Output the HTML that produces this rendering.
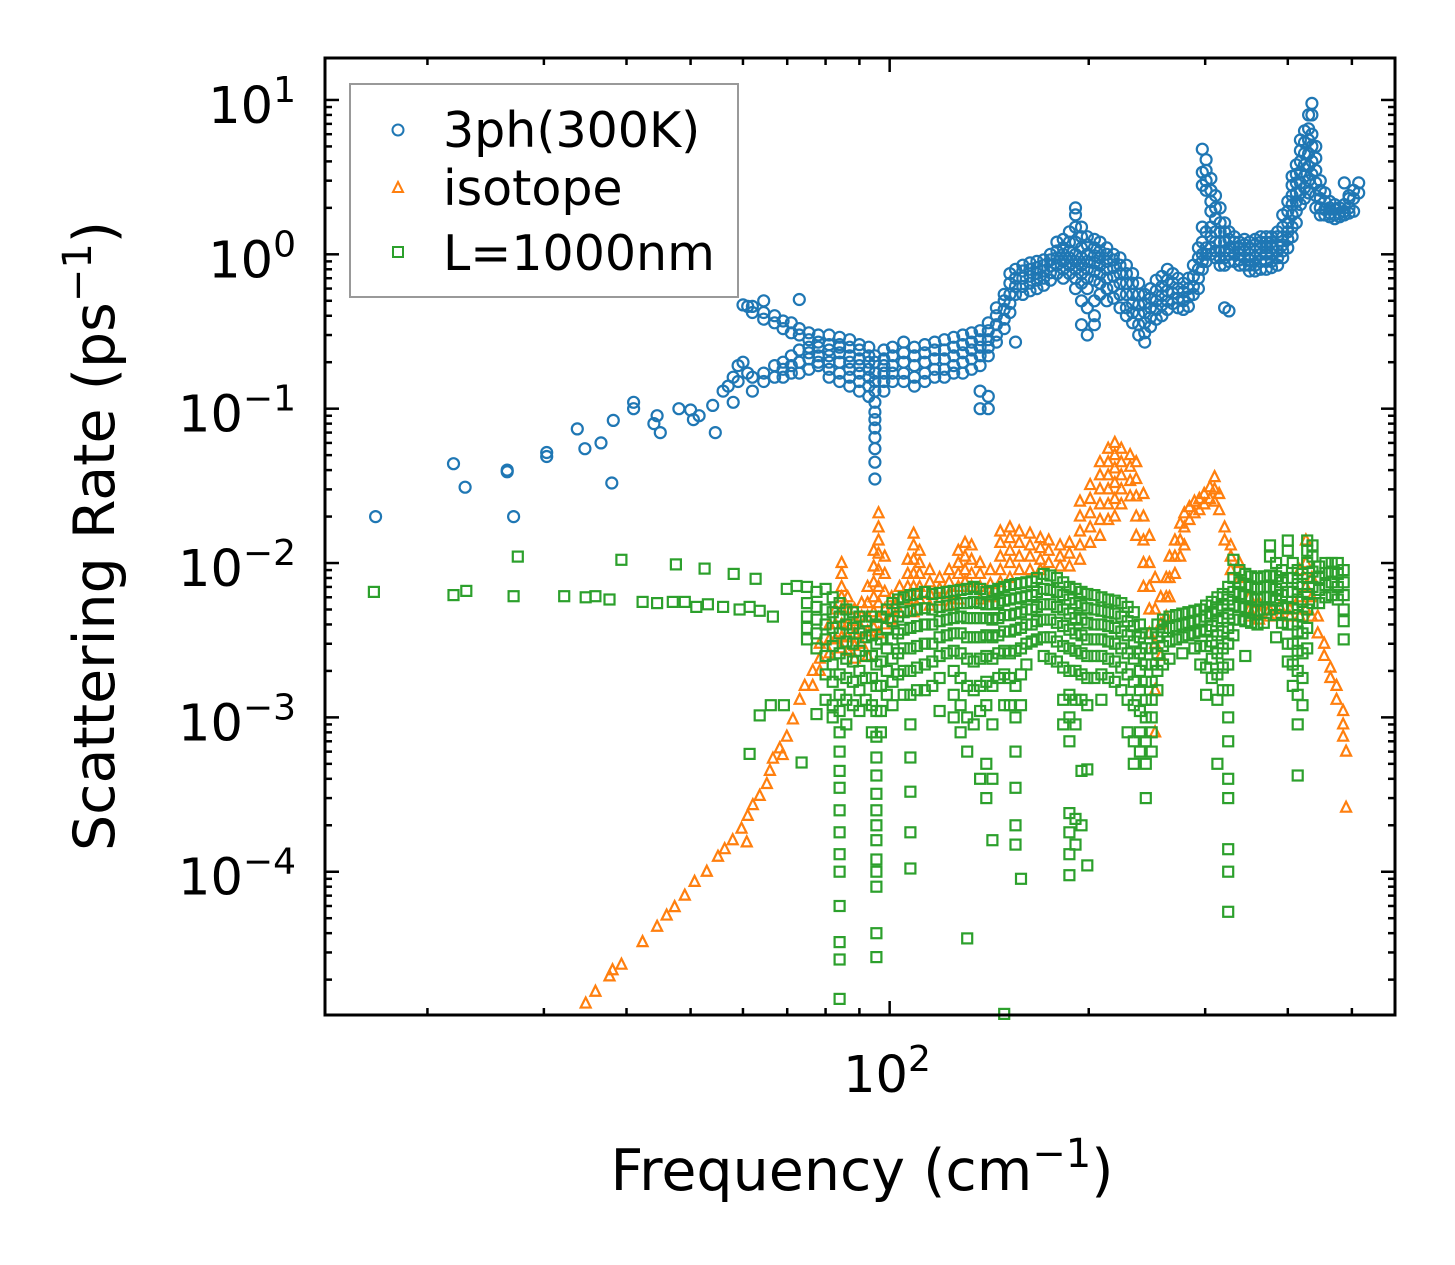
<!DOCTYPE html>
<html><head><meta charset="utf-8"><style>
html,body{margin:0;padding:0;background:#fff;}
svg{display:block;font-family:"DejaVu Sans","Liberation Sans",sans-serif;}
</style></head><body>
<svg id="chart" width="1455" height="1265" viewBox="0 0 1455 1265" xmlns="http://www.w3.org/2000/svg">
<rect width="1455" height="1265" fill="#fff"/>
<g id="ticks"></g>
<g id="ylabels"></g>
<g id="marks"></g>
<rect x="325" y="58" width="1070" height="957" fill="none" stroke="#000" stroke-width="3"/>
<text x="887" y="1092" font-size="51" text-anchor="middle">10<tspan font-size="36" dy="-21">2</tspan></text>
<text x="862" y="1190" font-size="57" text-anchor="middle">Frequency (cm<tspan font-size="40" dy="-23">−1</tspan><tspan dy="23">)</tspan></text>
<text transform="translate(114,536) rotate(-90)" font-size="57" text-anchor="middle">Scattering Rate (ps<tspan font-size="40" dy="-23">−1</tspan><tspan dy="23">)</tspan></text>
<g>
<rect x="350" y="84" width="388" height="213" fill="#fff" fill-opacity="0.8" stroke="#999" stroke-width="2"/>
<circle cx="398" cy="130" r="5.5" fill="none" stroke="#1f77b4" stroke-width="2"/>
<text x="443" y="147" font-size="49">3ph(300K)</text>
<polygon points="398,182 403,192 393,192" fill="none" stroke="#ff7f0e" stroke-width="2"/>
<text x="443" y="205" font-size="49">isotope</text>
<rect x="393" y="247" width="10" height="10" fill="none" stroke="#2ca02c" stroke-width="2"/>
<text x="443" y="270" font-size="49">L=1000nm</text>
</g>
</svg>
<script>
// axes
var xMin=14.0, xMax=581, yMin=1.18e-5, yMax=18.7;
var L=325,R=1395,T=58,B=1015;
function xs(f){return L+(Math.log10(f)-Math.log10(xMin))/(Math.log10(xMax)-Math.log10(xMin))*(R-L);}
function ys(v){return B-(Math.log10(v)-Math.log10(yMin))/(Math.log10(yMax)-Math.log10(yMin))*(B-T);}
var yTickExps=[1,0,-1,-2,-3,-4];
var xMajorTicks=[100];
var xMinorTicks=[20,30,40,50,60,70,80,90,200,300,400,500];

// 3ph (300K) scattering rates: frequency columns with rates at that frequency
var phFreq=[16.7,21.9,22.8,26.4,27,30.3,33.7,34.6,36.6,38,38.2,41,44,44.5,45,48,50,50.5,51.5,54,54.5,56,57,58,59,60,61,62,64.5,67,69,71,73,75.5,78,81,84,87,90,93,95,98,101,105,109,113,117,121,125,129,133,137,141,145,149,152,155,159,163,167,171,175,179,183,187,191,195,199,204,208,213,218,223,228,233,238,243,248,253,258,263,268,273,278,283,288,293,297,301,306,311,316,321,326,332,338,344,350,357,364,371,378,386,393,400,406,412,418,424,430,435,441,448,455,463,471,479,487,495,503,512];
var phRates=[[0.02],[0.044],[0.031],[0.04,0.039],[0.02],[0.049,0.052],[0.074],[0.055],[0.06],[0.033],[0.084],[0.11,0.1],[0.08],[0.09],[0.07],[0.1],[0.098],[0.085],[0.09],[0.105],[0.07],[0.13],[0.14],[0.16,0.11],[0.15,0.19],[0.47,0.2],[0.46,0.17],[0.46,0.42,0.13,0.16],[0.42,0.38,0.15,0.17,0.5],[0.4,0.36,0.16,0.19],[0.37,0.33,0.18,0.2,0.16],[0.36,0.31,0.19,0.17,0.22],[0.33,0.3,0.2,0.17,0.24,0.51],[0.31,0.28,0.21,0.18,0.25,0.23],[0.3,0.27,0.22,0.19,0.25,0.2],[0.3,0.26,0.22,0.18,0.24,0.2,0.16],[0.29,0.26,0.23,0.2,0.17,0.15,0.25],[0.28,0.25,0.22,0.2,0.18,0.16,0.14],[0.26,0.24,0.21,0.19,0.17,0.15,0.13],[0.25,0.22,0.2,0.18,0.16,0.14,0.12],[0.22,0.2,0.17,0.15,0.13,0.11,0.095,0.085,0.075,0.065,0.055,0.045,0.035],[0.24,0.21,0.19,0.17,0.15,0.13],[0.25,0.22,0.19,0.17,0.15],[0.27,0.23,0.2,0.17,0.15],[0.25,0.22,0.19,0.16,0.14],[0.26,0.23,0.2,0.17,0.15],[0.27,0.24,0.21,0.18,0.16],[0.28,0.24,0.21,0.18,0.16],[0.29,0.25,0.22,0.19,0.17],[0.3,0.26,0.23,0.2,0.17],[0.31,0.27,0.24,0.21,0.18],[0.32,0.28,0.25,0.22,0.19,0.13,0.1],[0.36,0.32,0.28,0.25,0.22,0.12,0.1],[0.45,0.4,0.35,0.3,0.27],[0.55,0.5,0.44,0.38,0.33],[0.75,0.65,0.55,0.48,0.42],[0.8,0.7,0.62,0.55,0.27],[0.85,0.78,0.7,0.62,0.55],[0.88,0.8,0.72,0.65,0.58],[0.9,0.82,0.75,0.68,0.6],[0.92,0.85,0.78,0.7,0.63],[1.0,0.92,0.84,0.76,0.68],[1.2,1.05,0.95,0.85,0.75],[1.25,1.1,1.0,0.9,0.8,0.7],[1.4,1.2,1.05,0.95,0.85,0.75],[2.0,1.8,1.5,1.2,1.0,0.9,0.8,0.7,0.6],[1.5,1.3,1.1,0.95,0.85,0.75,0.65,0.5,0.35],[1.3,1.15,1.0,0.9,0.8,0.7,0.6,0.45,0.3],[1.25,1.1,0.98,0.88,0.78,0.68,0.5,0.4,0.35],[1.2,1.05,0.95,0.85,0.75,0.65,0.55],[1.1,1.0,0.9,0.8,0.7,0.6,0.5],[1.0,0.92,0.82,0.72,0.62,0.52],[0.95,0.85,0.75,0.65,0.55,0.45],[0.85,0.75,0.65,0.55,0.45,0.4],[0.75,0.65,0.55,0.48,0.42,0.36],[0.65,0.55,0.47,0.41,0.35,0.3],[0.55,0.48,0.42,0.36,0.31,0.27],[0.6,0.52,0.45,0.39,0.34],[0.68,0.58,0.5,0.44,0.38],[0.72,0.62,0.54,0.47,0.4],[0.8,0.68,0.58,0.5,0.44],[0.75,0.65,0.56,0.48],[0.7,0.6,0.52,0.45],[0.65,0.57,0.5,0.44],[0.7,0.6,0.53,0.46],[0.85,0.72,0.62,0.55],[1.1,0.95,0.8,0.7,0.6],[4.8,3.4,2.8,1.5,1.2,1.0,0.9,0.8],[4.1,3.5,3.0,2.6,1.4,1.1,1.0,0.9],[3.1,2.6,2.2,1.9,1.5,1.3,1.1,1.0],[2.4,2.0,1.7,1.4,1.2,1.05,0.95],[2.0,1.6,1.4,1.2,1.05,0.95,0.85],[1.6,1.4,1.2,1.05,0.95,0.85,0.45],[1.4,1.25,1.1,1.0,0.9,0.43],[1.3,1.2,1.1,1.0,0.9],[1.2,1.1,1.0,0.92,0.85],[1.25,1.15,1.05,0.95,0.85],[1.2,1.1,1.0,0.92,0.85,0.78],[1.25,1.15,1.05,0.95,0.85,0.78],[1.3,1.2,1.1,1.0,0.9,0.8],[1.3,1.2,1.1,1.0,0.9,0.8],[1.3,1.2,1.1,1.0,0.9,0.82],[1.4,1.3,1.15,1.05,0.95,0.85],[1.8,1.5,1.3,1.15,1.05,0.95],[2.2,1.9,1.6,1.4,1.25,1.1],[3.2,2.8,2.4,2.1,1.8,1.5,1.3],[3.8,3.3,2.9,2.5,2.2,1.9,1.6],[5.5,4.7,4.0,3.4,2.9,2.5,2.1],[6.3,5.3,4.5,3.8,3.2,2.7,2.3],[8.0,6.5,5.5,4.5,3.7,3.0,2.5],[9.5,8.0,6.0,5.0,4.0,3.3],[5.0,4.2,3.5,2.9,2.4,2.0],[3.0,2.6,2.3,2.0,1.8],[2.5,2.2,1.95,1.8],[2.2,2.0,1.85,1.75],[2.1,1.95,1.8,1.7],[2.0,1.85,1.75],[2.9,2.1,1.9,1.8],[2.4,2.3,2.0,1.85],[2.6,2.3,1.9],[2.9,2.5]];

// isotope scattering rates
var isoFreq=[34.7,35.9,37.7,38.1,39.3,42.3,44.5,46,47.3,49,50.7,52.9,55,56.3,57.9,59.7,60.8,61,62.1,63.6,65.2,65.9,66.6,68.2,68.9,69.9,71.4,73.1,74.4,76.5,78.4,81.1,82.8,84.6,86.4,88.5,90.7,92.6,94.6,96.2,98.3,100.7,103.5,106.5,108.7,111,115,119,123,127,130,133,137,142,147,152,157,163,169,174,181,187,194,201,208,214,219,224,231,236,242,247,252,257,262,265,270,275,279,284,289,294,299,305,310,315,321,328,338,350,362,375,389,403,417,426,435,444,454,464,474,485,490];
var isoRates=[[1.4e-5],[1.67e-5],[2.1e-5],[2.3e-5],[2.5e-5],[3.5e-5],[4.4e-5],[5.2e-5],[5.9e-5],[7e-5],[8.6e-5],[1e-4],[1.25e-4],[1.4e-4],[1.6e-4],[1.9e-4],[1.55e-4],[2.3e-4],[2.7e-4],[3.1e-4],[3.7e-4],[4.5e-4],[5.4e-4],[6.3e-4],[5.7e-4],[7.5e-4],[9.7e-4],[1.3e-3],[1.6e-3],[2e-3,1.6e-3],[2.4e-3,3e-3,2e-3],[3.2e-3,2.6e-3,4e-3],[4e-3,3.2e-3,5e-3],[1e-2,8.5e-3,7e-3,6e-3,5e-3,4e-3,3.3e-3,2.8e-3],[6e-3,5e-3,4e-3,3.3e-3,2.7e-3],[5e-3,4.2e-3,3.5e-3,2.9e-3,2.4e-3],[5.5e-3,4.5e-3,3.7e-3,3e-3],[7e-3,5.5e-3,4.5e-3,3.6e-3,2.5e-3],[1.2e-2,9.5e-3,7.5e-3,6e-3,4.8e-3,3.8e-3],[2.1e-2,1.7e-2,1.4e-2,1.15e-2,9e-3,7e-3,5.5e-3,4.4e-3,3.5e-3],[1.1e-2,8.5e-3,6.5e-3,5e-3,4e-3],[6e-3,5e-3,4.3e-3],[7e-3,5.8e-3,4.8e-3],[1.05e-2,8.5e-3,7e-3,5.8e-3],[1.55e-2,1.3e-2,1.05e-2,8.5e-3,7e-3,5.8e-3,4.8e-3],[1.2e-2,1e-2,8.5e-3,7e-3,5.8e-3],[9e-3,7.5e-3,6.3e-3,5.3e-3],[8e-3,6.8e-3,5.7e-3],[9e-3,7.5e-3,6.3e-3,5.3e-3],[1.2e-2,1e-2,8.5e-3,7e-3,5.8e-3],[1.35e-2,1.1e-2,9e-3,7.5e-3],[1.3e-2,1.05e-2,8.5e-3,7e-3],[1e-2,8.5e-3,7e-3,5.8e-3],[9e-3,7.3e-3,6e-3],[1.6e-2,1.35e-2,1.1e-2,9e-3,7.5e-3],[1.7e-2,1.45e-2,1.2e-2,1e-2,8e-3],[1.6e-2,1.35e-2,1.1e-2,9e-3],[1.55e-2,1.3e-2,1.1e-2,9e-3],[1.45e-2,1.25e-2,1.05e-2,9e-3],[1.4e-2,1.2e-2,1e-2],[1.3e-2,1.1e-2,9.5e-3],[1.35e-2,1.15e-2,9.5e-3],[2.5e-2,2e-2,1.6e-2,1.3e-2,1.05e-2],[3.2e-2,2.6e-2,2.1e-2,1.7e-2,1.35e-2],[4.5e-2,3.7e-2,3e-2,2.4e-2,1.9e-2,1.5e-2],[5.5e-2,4.5e-2,3.7e-2,3e-2,2.4e-2,1.9e-2],[6e-2,5e-2,4.1e-2,3.3e-2,2.6e-2,2e-2],[5.5e-2,4.5e-2,3.7e-2,3e-2,2.4e-2],[5e-2,4.2e-2,3.4e-2,2.7e-2],[4.5e-2,3.5e-2,2.7e-2,2e-2,1.5e-2],[2.8e-2,2e-2,1.4e-2,1e-2,7e-3],[1.5e-2,1e-2,7e-3,5e-3,3.5e-3],[8e-3,5e-3,3e-3,1.5e-3,8e-4],[6e-3,4e-3,2.5e-3],[8e-3,6e-3,4.5e-3],[1.1e-2,8e-3,6e-3],[1.4e-2,1.1e-2,8.5e-3],[1.8e-2,1.4e-2,1.1e-2],[2.1e-2,1.7e-2,1.3e-2],[2.3e-2,1.9e-2],[2.5e-2,2.1e-2],[2.6e-2,2.2e-2],[2.8e-2,2.4e-2],[3.1e-2,2.6e-2],[3.6e-2,3e-2,2.5e-2],[2.8e-2,2.2e-2],[1.7e-2,1.4e-2],[1.3e-2,1.1e-2,9e-3],[1e-2,8e-3],[6e-3,5e-3,4.5e-3],[5.5e-3,4.8e-3,4.3e-3],[5e-3,4.5e-3],[5.2e-3,4.6e-3],[5e-3,4.5e-3],[9e-3,6e-3,4.5e-3],[1.4e-2,1e-2,7e-3,5e-3],[8e-3,6e-3,4.5e-3],[4.5e-3,3.5e-3],[3e-3,2.5e-3],[2.1e-3,1.8e-3],[1.6e-3,1.3e-3],[1.1e-3,9e-4,7.5e-4],[6e-4,2.6e-4]];

// boundary (L=1000nm) scattering rates
var bdFreq=[16.6,21.9,22.9,27,27.4,32.2,34.7,35.9,37.7,39.3,42.3,44.5,47,47.5,49,51,52.5,53.1,56,58.1,59.3,61.4,62.7,63.6,66.1,66.6,69.2,69.9,72.3,73.6,75,77.5,80,82,84,86,88,90,92,94,95.5,97,99,101,103,105,107.5,110,113,116,119,122,125,128,131,134,137,140,143,146,149,152,155,158,161,164,167,171,175,179,183,187,191,195,199,204,209,214,219,224,229,234,239,244,249,254,259,265,271,277,283,289,295,301,307,313,319,325,331,338,345,352,360,368,376,384,392,400,407,414,421,428,436,446,456,466,476,486];
var bdRates=[[6.5e-3],[6.2e-3],[6.6e-3],[6.1e-3],[1.1e-2],[6.1e-3],[6e-3],[6.1e-3],[5.8e-3],[1.05e-2],[5.6e-3],[5.5e-3],[5.6e-3],[9.8e-3],[5.6e-3],[5.2e-3],[9.2e-3],[5.4e-3],[5.2e-3],[8.5e-3],[5e-3],[5.2e-3,5.8e-4],[7.9e-3],[4.9e-3,1.03e-3],[1.2e-3],[4.5e-3],[1.2e-3],[6.8e-3],[7.1e-3],[5.1e-4],[7e-3,5.5e-3,4.5e-3,3.8e-3,3.2e-3],[6.5e-3,5.2e-3,4.3e-3,3.5e-3,2.8e-3,1.05e-3],[6.8e-3,5e-3,4e-3,3.2e-3,2.5e-3,1.9e-3,1.3e-3],[6e-3,4.8e-3,3.8e-3,2.9e-3,2.2e-3,1.7e-3,1.2e-3,1e-3],[5.5e-3,4.5e-3,3.5e-3,2.6e-3,1.9e-3,1.4e-3,1.1e-3,8e-4,6e-4,4.5e-4,3.5e-4,2.5e-4,1.8e-4,1.3e-4,1e-4,6e-5,3.5e-5,2.7e-5,1.5e-5],[5e-3,4e-3,3.1e-3,2.4e-3,1.8e-3,1.3e-3,9e-4],[4.8e-3,3.8e-3,3e-3,2.3e-3,1.7e-3,1.2e-3],[4.5e-3,3.5e-3,2.7e-3,2e-3,1.5e-3,1.1e-3],[4.2e-3,3.3e-3,2.5e-3,1.8e-3,1.3e-3],[4.5e-3,3.4e-3,2.5e-3,1.8e-3,1.2e-3,8e-4],[4e-3,3e-3,2.2e-3,1.6e-3,1.1e-3,7.5e-4,5.5e-4,4.2e-4,3.2e-4,2.5e-4,2e-4,1.6e-4,1.2e-4,1e-4,8e-5,4e-5,2.8e-5],[4.5e-3,3.2e-3,2.3e-3,1.6e-3,1.1e-3,8e-4],[5e-3,3.8e-3,2.8e-3,2e-3,1.4e-3],[5.5e-3,4.2e-3,3.2e-3,2.4e-3,1.7e-3,1.2e-3],[5.8e-3,4.5e-3,3.5e-3,2.6e-3,1.9e-3],[6e-3,4.8e-3,3.7e-3,2.8e-3,2e-3,1.4e-3],[6.2e-3,4.9e-3,3.8e-3,2.8e-3,2e-3,1.4e-3,9e-4,5.5e-4,3.3e-4,1.8e-4,1.05e-4],[6.3e-3,5e-3,3.9e-3,2.9e-3,2.1e-3,1.5e-3],[6.5e-3,5.1e-3,4e-3,3e-3,2.2e-3,1.5e-3],[6.3e-3,5e-3,4e-3,3e-3,2.3e-3,1.6e-3],[6.4e-3,5.2e-3,4.2e-3,3.3e-3,2.5e-3,1.8e-3,1.1e-3],[6.5e-3,5.3e-3,4.3e-3,3.4e-3,2.6e-3],[6.6e-3,5.4e-3,4.4e-3,3.5e-3,2.7e-3,2e-3,1.4e-3,1e-3],[6.7e-3,5.5e-3,4.5e-3,3.5e-3,2.6e-3,1.8e-3,1.2e-3,8e-4],[6.8e-3,5.5e-3,4.4e-3,3.3e-3,2.4e-3,1.6e-3,1e-3,6e-4,3.7e-5],[7e-3,5.6e-3,4.4e-3,3.3e-3,2.3e-3,1.5e-3,9e-4],[6.8e-3,5.5e-3,4.4e-3,3.3e-3,2.4e-3,1.6e-3,1.1e-3,4e-4],[6.5e-3,5.4e-3,4.4e-3,3.4e-3,2.5e-3,1.7e-3,1.2e-3,5e-4,3e-4],[6.6e-3,5.4e-3,4.3e-3,3.3e-3,2.4e-3,1.6e-3,9e-4,4e-4,1.6e-4],[6.8e-3,5.5e-3,4.4e-3,3.4e-3,2.6e-3,1.8e-3],[7e-3,5.7e-3,4.6e-3,3.6e-3,2.7e-3,1.9e-3,1.2e-3,1.2e-5],[7.2e-3,5.8e-3,4.6e-3,3.6e-3,2.6e-3,1.8e-3,1.2e-3],[7.3e-3,5.9e-3,4.7e-3,3.7e-3,2.7e-3,1.6e-3,1e-3,6e-4,3.5e-4,2e-4,1.5e-4],[7.4e-3,6e-3,4.8e-3,3.8e-3,2.8e-3,1.9e-3,1.2e-3,9e-5],[7.5e-3,6.1e-3,5e-3,4e-3,3e-3,2.2e-3],[7.6e-3,6.2e-3,5e-3,4e-3,3.1e-3],[8e-3,6.5e-3,5.2e-3,4.2e-3,3.2e-3],[8.5e-3,6.8e-3,5.4e-3,4.3e-3,3.3e-3,2.5e-3],[8.3e-3,6.7e-3,5.4e-3,4.3e-3,3.3e-3,2.4e-3],[8e-3,6.5e-3,5.2e-3,4.1e-3,3.1e-3,2.3e-3],[7.5e-3,6.2e-3,5e-3,3.9e-3,2.9e-3,2.1e-3,1.3e-3,9e-4],[7e-3,5.8e-3,4.7e-3,3.7e-3,2.8e-3,2e-3,1.4e-3,1e-3,7e-4,2.4e-4,1.8e-4,1.3e-4,9.5e-5],[6.8e-3,5.5e-3,4.4e-3,3.5e-3,2.7e-3,2e-3,1.3e-3,9e-4,2.2e-4,1.5e-4],[6.5e-3,5.3e-3,4.3e-3,3.4e-3,2.6e-3,1.9e-3,1.3e-3,4.5e-4,2e-4],[6.3e-3,5.1e-3,4.1e-3,3.2e-3,2.5e-3,1.8e-3,1.2e-3,4.6e-4,1.1e-4],[6.2e-3,5e-3,4e-3,3.2e-3,2.5e-3,1.8e-3],[6e-3,4.9e-3,4e-3,3.2e-3,2.5e-3,1.9e-3,1.3e-3],[5.8e-3,4.8e-3,3.9e-3,3.1e-3,2.4e-3,1.8e-3],[5.7e-3,4.7e-3,3.8e-3,3e-3,2.3e-3,1.7e-3],[5.5e-3,4.5e-3,3.6e-3,2.8e-3,2.1e-3,1.5e-3],[5.2e-3,4.2e-3,3.4e-3,2.6e-3,1.9e-3,1.3e-3,8e-4],[4.8e-3,3.9e-3,3.1e-3,2.4e-3,1.7e-3,1.2e-3,7e-4,5e-4],[4e-3,3.3e-3,2.6e-3,2e-3,1.5e-3,1.1e-3,8e-4,6e-4],[3.5e-3,2.8e-3,2.2e-3,1.7e-3,1.3e-3,1e-3,7e-4,5e-4,3e-4],[3.5e-3,2.8e-3,2.2e-3,1.7e-3,1.3e-3,1e-3,8e-4,6e-4],[4e-3,3.3e-3,2.6e-3,2e-3,1.5e-3],[4.3e-3,3.6e-3,2.9e-3,2.2e-3],[4.5e-3,3.8e-3,3.1e-3,2.4e-3],[4.6e-3,3.9e-3,3.2e-3],[4.7e-3,4e-3,3.3e-3,2.6e-3],[4.8e-3,4.1e-3,3.4e-3],[4.9e-3,4.2e-3,3.5e-3,2.8e-3],[5e-3,4.3e-3,3.6e-3,2.9e-3,2.2e-3],[5.3e-3,4.5e-3,3.7e-3,2.9e-3,2.1e-3,1.4e-3],[5.6e-3,4.7e-3,3.9e-3,3.1e-3,2.4e-3,1.8e-3],[6e-3,5e-3,4.2e-3,3.4e-3,2.6e-3,1.9e-3,1.3e-3,5e-4],[6.3e-3,5.3e-3,4.4e-3,3.6e-3,2.8e-3,2.1e-3,1.5e-3],[7e-3,5.8e-3,4.7e-3,3.8e-3,3e-3,2.2e-3,1.5e-3,1e-3,7e-4,4e-4,3e-4,1.4e-4,1e-4,5.5e-5],[1.05e-2,8e-3,6.5e-3,5.3e-3,4.3e-3,3.4e-3],[9e-3,7.5e-3,6.3e-3,5.2e-3,4.3e-3],[8.5e-3,7.2e-3,6.1e-3,5.1e-3,4.2e-3,2.5e-3],[8.2e-3,7e-3,6e-3,5e-3,4.1e-3],[8e-3,6.8e-3,5.8e-3,4.9e-3,4e-3],[8.2e-3,7e-3,6e-3,5e-3,4.1e-3],[1.3e-2,1.1e-2,8.3e-3,7e-3,6e-3,5e-3],[1e-2,8.2e-3,6.8e-3,5.7e-3,4.6e-3,3.3e-3],[9e-3,7.5e-3,6.2e-3,5.1e-3,4.1e-3],[1.4e-2,1.2e-2,8e-3,6.5e-3,5.2e-3,4e-3,3e-3,2.3e-3],[1e-2,8e-3,6.5e-3,5.1e-3,4e-3,3e-3,2.2e-3,1.6e-3],[9e-3,7.3e-3,5.8e-3,4.6e-3,3.6e-3,2.7e-3,2e-3,1.4e-3,9e-4,4.2e-4],[8.5e-3,7e-3,5.6e-3,4.5e-3,3.5e-3,2.6e-3,1.8e-3,1.2e-3],[1.4e-2,1.2e-2,1e-2,8e-3,6.3e-3,5e-3,3.8e-3,2.8e-3],[1.3e-2,1.1e-2,8.8e-3,7e-3,5.5e-3],[9.5e-3,8e-3,6.7e-3,5.5e-3],[1e-2,8.6e-3,7.2e-3,6e-3],[1e-2,8.8e-3,7.5e-3,6.2e-3],[1e-2,8.5e-3,7e-3,5.8e-3],[9e-3,7.5e-3,6.2e-3,5e-3,4.2e-3,3.2e-3]];

var NS='http://www.w3.org/2000/svg';
var tg=document.getElementById('ticks');
function line(x1,y1,x2,y2,name){
  var l=document.createElementNS(NS,'line');
  l.setAttribute('x1',x1);l.setAttribute('y1',y1);l.setAttribute('x2',x2);l.setAttribute('y2',y2);
  l.setAttribute('stroke','#000');l.setAttribute('stroke-width','2.5');
  
  
  tg.appendChild(l);
}
// y ticks
var ylg=document.getElementById('ylabels');
yTickExps.forEach(function(e){
  var y=ys(Math.pow(10,e));
  line(L,y,L+14,y,'y-major-tick');
  line(R,y,R-14,y,'y-major-tick-right');
  var t=document.createElementNS(NS,'text');
  t.setAttribute('x',296);t.setAttribute('y',y+23);t.setAttribute('font-size','51');t.setAttribute('text-anchor','end');
  t.innerHTML='10<tspan font-size="36" dy="-21">'+(e<0?'−'+(-e):e)+'</tspan>';
  
  
  ylg.appendChild(t);
});
for(var e=-5;e<=1;e++){for(var m=2;m<=9;m++){var v=m*Math.pow(10,e);if(v<yMin||v>yMax)continue;var y=ys(v);
  line(L,y,L+7,y,'y-minor-tick');
  line(R,y,R-7,y,'y-minor-tick-right');}}
xMajorTicks.forEach(function(f){var x=xs(f);
  line(x,B,x,B-14,'x-major-tick');
  line(x,T,x,T+14,'x-major-tick-top');});
xMinorTicks.forEach(function(f){var x=xs(f);
  line(x,B,x,B-7,'x-minor-tick');
  line(x,T,x,T+7,'x-minor-tick-top');});

var mg=document.getElementById('marks');
function clipOK(x,y){return x>=L-6&&x<=R+6&&y>=T-6&&y<=B+2;}
// 3ph circles
phFreq.forEach(function(f,i){phRates[i].forEach(function(v){
  var x=xs(f),y=ys(v);if(!clipOK(x,y))return;
  var c=document.createElementNS(NS,'circle');
  c.setAttribute('cx',x.toFixed(1));c.setAttribute('cy',y.toFixed(1));c.setAttribute('r','5.5');
  c.setAttribute('fill','none');c.setAttribute('stroke','#1f77b4');c.setAttribute('stroke-width','2.2');
  
  
  mg.appendChild(c);});});
// isotope triangles
isoFreq.forEach(function(f,i){isoRates[i].forEach(function(v){
  var x=xs(f),y=ys(v);if(!clipOK(x,y))return;
  var p=document.createElementNS(NS,'polygon');
  p.setAttribute('points',x+','+(y-6)+' '+(x+5)+','+(y+4)+' '+(x-5)+','+(y+4));
  p.setAttribute('fill','none');p.setAttribute('stroke','#ff7f0e');p.setAttribute('stroke-width','2.2');
  
  
  mg.appendChild(p);});});
// boundary squares
bdFreq.forEach(function(f,i){bdRates[i].forEach(function(v){
  var x=xs(f),y=ys(v);if(!clipOK(x,y))return;
  var r=document.createElementNS(NS,'rect');
  r.setAttribute('x',(x-5).toFixed(1));r.setAttribute('y',(y-5).toFixed(1));r.setAttribute('width','10');r.setAttribute('height','10');
  r.setAttribute('fill','none');r.setAttribute('stroke','#2ca02c');r.setAttribute('stroke-width','2.2');
  
  
  mg.appendChild(r);});});
</script>
</body></html>
